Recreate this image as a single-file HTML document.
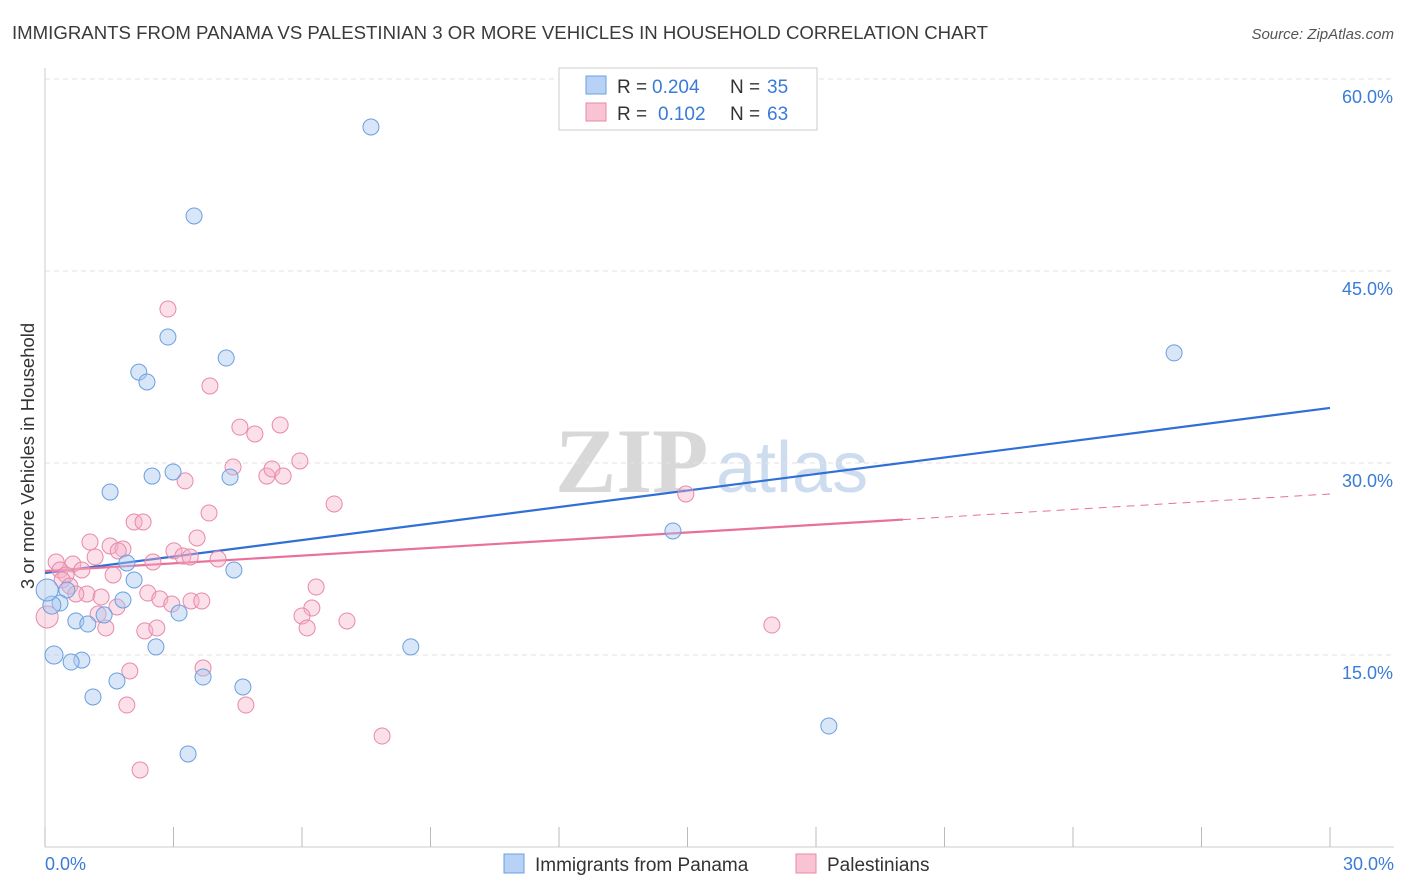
<!DOCTYPE html>
<html><head><meta charset="utf-8"><style>
body{margin:0;background:#fff;font-family:"Liberation Sans",sans-serif;}
svg{display:block}
</style></head><body>
<svg id="chart" width="1406" height="892">
<text x="12" y="39" font-size="18" fill="#3a3a3a" textLength="976" lengthAdjust="spacingAndGlyphs">IMMIGRANTS FROM PANAMA VS PALESTINIAN 3 OR MORE VEHICLES IN HOUSEHOLD CORRELATION CHART</text>
<text x="1394" y="39" font-size="15" fill="#555" font-style="italic" text-anchor="end">Source: ZipAtlas.com</text>
<text x="0" y="0" transform="translate(34,456) rotate(-90)" font-size="18.5" fill="#333" text-anchor="middle">3 or more Vehicles in Household</text>
<g><text x="555" y="492" font-size="92" font-family="Liberation Serif,serif" fill="#d8d8d8" font-weight="bold">ZIP</text><text x="716" y="492" font-size="72" fill="#cddcee">atlas</text></g>
<g id="grid"></g><g id="axes"></g><g id="lines"></g><g id="pts"></g>
<g>
<rect x="559" y="68" width="258" height="62" fill="#fff" stroke="#ccc"/>
<rect x="586" y="76" width="20" height="18" fill="#b7d2f4" stroke="#6a9fe0"/>
<text x="617" y="93" font-size="19" fill="#333">R =</text><text x="652" y="93" font-size="19" fill="#3a7bd8">0.204</text>
<text x="730" y="93" font-size="19" fill="#333">N =</text><text x="767" y="93" font-size="19" fill="#3a7bd8">35</text>
<rect x="586" y="103" width="20" height="18" fill="#f8c4d4" stroke="#e889a8"/>
<text x="617" y="120" font-size="19" fill="#333">R =</text><text x="658" y="120" font-size="19" fill="#3a7bd8">0.102</text>
<text x="730" y="120" font-size="19" fill="#333">N =</text><text x="767" y="120" font-size="19" fill="#3a7bd8">63</text>
</g>
<g>
<rect x="504" y="854" width="20" height="19" fill="#b7d2f4" stroke="#6a9fe0"/>
<text x="535" y="871" font-size="19" fill="#333">Immigrants from Panama</text>
<rect x="796" y="854" width="20" height="19" fill="#f8c4d4" stroke="#e889a8"/>
<text x="827" y="871" font-size="19" fill="#333">Palestinians</text>
</g>
</svg>
<script>
const xTicks=[0,3,6,9,12,15,18,21,24,27,30];
const yTicks=[15,30,45,60];
const panamaX=[7.61,3.48,2.87,4.23,2.19,2.38,26.36,1.52,2.50,2.99,4.32,14.66,1.91,4.41,2.08,0.51,0.35,1.82,0.16,3.13,0.72,1.0,1.38,2.59,0.21,0.86,0.61,8.54,1.68,3.69,4.62,1.12,18.3,3.34,0.05];
const panamaY=[56.25,49.3,39.84,38.2,37.1,36.33,38.6,27.73,28.98,29.3,28.9,24.69,22.19,21.64,20.86,20.08,19.06,19.3,18.9,18.28,17.66,17.42,18.13,15.63,15.0,14.6,14.45,15.63,12.97,13.28,12.5,11.72,9.45,7.27,20.08];
const palX=[2.87,3.85,4.55,4.9,5.49,4.39,5.95,3.27,5.18,5.3,5.56,14.96,6.75,3.83,2.08,2.29,3.55,1.05,1.52,1.82,1.71,3.01,1.17,2.52,3.22,3.39,4.04,0.26,0.65,0.35,0.86,0.49,1.59,0.4,0.58,6.33,0.98,0.72,2.4,1.31,2.68,3.41,3.66,2.96,1.68,6.23,1.24,6.0,7.05,16.97,0.05,1.42,2.33,2.61,6.12,3.69,1.98,1.91,4.69,7.87,2.22];
const palY=[42.03,36.02,32.8,32.27,32.97,29.69,30.16,28.6,28.98,29.53,28.98,27.58,26.8,26.09,25.39,25.39,24.14,23.83,23.52,23.28,23.13,23.13,22.66,22.27,22.73,22.66,22.5,22.27,22.11,21.64,21.64,21.25,21.25,20.86,20.39,20.31,19.77,19.77,19.84,19.53,19.38,19.22,19.22,18.98,18.75,18.67,18.2,18.05,17.66,17.34,17.97,17.11,16.88,17.11,17.11,13.98,13.75,11.09,11.09,8.67,6.02];
const panamaTrend=[21.4,34.3];
const palTrend=[21.56,27.58];
const palSolidEnd=20.03;
const sx=v=>45+v/30*1285, sy=v=>847-v*12.8;
const NS='http://www.w3.org/2000/svg';
function mk(t,a,p){const e=document.createElementNS(NS,t);for(const k in a)e.setAttribute(k,a[k]);document.getElementById(p).appendChild(e);return e;}
yTicks.forEach(v=>{
 const g=mk('line',{x1:45,x2:1394,y1:sy(v),y2:sy(v),stroke:'#e2e2e2','stroke-dasharray':'5,4'},'grid');
 
 
 const t=mk('text',{x:1393,y:sy(v)+24,'font-size':18,fill:'#3a7bd8','text-anchor':'end'},'axes');t.textContent=v.toFixed(1)+'%';
 
 
});
mk('line',{x1:45,x2:45,y1:68,y2:847,stroke:'#ccc'},'axes');
mk('line',{x1:45,x2:1394,y1:847,y2:847,stroke:'#ccc'},'axes');
xTicks.forEach(v=>{
 const l=mk('line',{x1:sx(v),x2:sx(v),y1:827,y2:847,stroke:'#bbb'},'axes');
 
 
});
[[0,'start',45],[30,'end',1394]].forEach(([v,a,x])=>{const t=mk('text',{x:x,y:870,'font-size':18,fill:'#3a7bd8','text-anchor':a},'axes');t.textContent=v.toFixed(1)+'%';
 
 });
const bl=mk('line',{x1:sx(0),y1:sy(panamaTrend[0]),x2:sx(30),y2:sy(panamaTrend[1]),stroke:'#2f6fd6','stroke-width':2.2},'lines');


const pm=palTrend[0]+(palTrend[1]-palTrend[0])*palSolidEnd/30;
const pl=mk('line',{x1:sx(0),y1:sy(palTrend[0]),x2:sx(palSolidEnd),y2:sy(pm),stroke:'#e8709a','stroke-width':2.2},'lines');


const pd=mk('line',{x1:sx(palSolidEnd),y1:sy(pm),x2:sx(30),y2:sy(palTrend[1]),stroke:'#e8709a','stroke-width':1,'stroke-dasharray':'8,6'},'lines');


palX.forEach((x,i)=>{const r=(x<0.1)?11:8;
 const c=mk('circle',{cx:sx(x),cy:sy(palY[i]),r:r,fill:'rgba(246,176,200,0.4)',stroke:'#e889a8','stroke-width':1},'pts');
 
 });
panamaX.forEach((x,i)=>{const r=(x<0.1)?11:(x<0.25?9:8);
 const c=mk('circle',{cx:sx(x),cy:sy(panamaY[i]),r:r,fill:'rgba(168,200,240,0.45)',stroke:'#6a9fe0','stroke-width':1},'pts');
 
 });
</script>
</body></html>
